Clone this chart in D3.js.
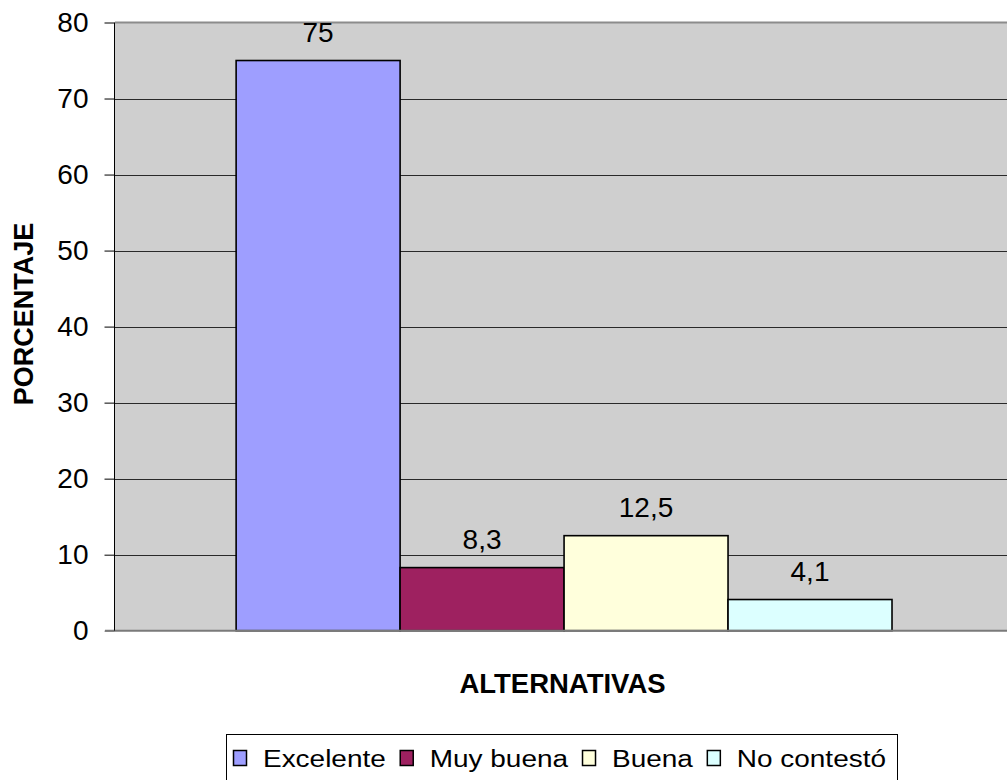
<!DOCTYPE html>
<html>
<head>
<meta charset="utf-8">
<script src="https://cdn.jsdelivr.net/npm/d3@7"></script>
<style>
  html, body { margin: 0; padding: 0; background: #fff; }
  svg { display: block; font-family: Arial, "Liberation Sans", sans-serif; }
</style>
</head>
<body>
<svg id="chart" width="1007" height="780"></svg>
<script>
const series = ["Excelente", "Muy buena", "Buena", "No contestó"];
const values = [75, 8.3, 12.5, 4.1];
const labels = ["75", "8,3", "12,5", "4,1"];
const colors = ["#9E9EFF", "#9E2160", "#FFFFDC", "#DCFFFF"];
const yTicks = [0, 10, 20, 30, 40, 50, 60, 70, 80];
const yTitle = "PORCENTAJE";
const xTitle = "ALTERNATIVAS";

const svg = d3.select("#chart");
const plot = { left: 115, right: 1007, top: 22.5, bottom: 630.7 };

const y = d3.scaleLinear().domain([0, 80]).range([plot.bottom, plot.top]);
const x = d3.scaleBand().domain(series)
  .range([plot.left, plot.right])
  .paddingInner(0).paddingOuter(0.72).align(0.513);

// plot background
svg.append("rect")
  .attr("x", plot.left).attr("y", plot.top)
  .attr("width", plot.right - plot.left).attr("height", plot.bottom - plot.top)
  .attr("fill", "#CFCFCF");

// gridlines
svg.append("g").selectAll("line")
  .data(yTicks.filter(d => d > 0 && d < 80))
  .join("line")
  .attr("x1", plot.left).attr("x2", plot.right)
  .attr("y1", d => Math.round(y(d)) + 0.5).attr("y2", d => Math.round(y(d)) + 0.5)
  .attr("stroke", "#2a2a2a").attr("stroke-width", 1);

// top border (80)
svg.append("line")
  .attr("x1", plot.left).attr("x2", plot.right)
  .attr("y1", y(80)).attr("y2", y(80))
  .attr("stroke", "#8c8c8c").attr("stroke-width", 2);

// bars
svg.append("g").selectAll("rect")
  .data(series)
  .join("rect")
  .attr("x", d => x(d))
  .attr("y", (d, i) => y(values[i]))
  .attr("width", x.bandwidth())
  .attr("height", (d, i) => y(0) - y(values[i]))
  .attr("fill", (d, i) => colors[i])
  .attr("stroke", "#000").attr("stroke-width", 1.6);

// bottom axis line (0)
svg.append("line")
  .attr("x1", plot.left - 10).attr("x2", plot.right)
  .attr("y1", y(0)).attr("y2", y(0))
  .attr("stroke", "#7a7a7a").attr("stroke-width", 2);

// y axis
const yAxis = d3.axisLeft(y).tickValues(yTicks).tickSize(10).tickPadding(16)
  .tickFormat(d3.format("d"));
const gy = svg.append("g").attr("transform", `translate(${plot.left - 0.5},0)`).call(yAxis);
gy.select(".domain").attr("stroke", "#000").attr("d", `M0,${plot.top}V${plot.bottom}`);
gy.selectAll(".tick line").attr("stroke", d => d === 0 ? "#7a7a7a" : "#000");
gy.selectAll(".tick text")
  .attr("font-size", 28).attr("fill", "#000")
  .attr("font-family", "Arial, 'Liberation Sans', sans-serif");

// data labels
svg.append("g").selectAll("text")
  .data(series)
  .join("text")
  .attr("x", d => x(d) + x.bandwidth() / 2)
  .attr("y", (d, i) => y(values[i]) - 19)
  .attr("text-anchor", "middle")
  .attr("font-size", 28).attr("fill", "#000")
  .text((d, i) => labels[i]);

// axis titles
svg.append("text")
  .attr("transform", `translate(33,314) rotate(-90)`)
  .attr("text-anchor", "middle")
  .attr("font-size", 27).attr("font-weight", "bold")
  .text(yTitle);

svg.append("text")
  .attr("x", 562.5).attr("y", 693)
  .attr("text-anchor", "middle")
  .attr("font-size", 27.5).attr("font-weight", "bold")
  .text(xTitle);

// legend
const legend = svg.append("g");
legend.append("rect")
  .attr("x", 226.5).attr("y", 734.5)
  .attr("width", 671).attr("height", 60)
  .attr("fill", "#fff").attr("stroke", "#000").attr("stroke-width", 1);

const sx = 1.19;
let cx = 233;
series.forEach((s, i) => {
  legend.append("rect")
    .attr("x", cx + 0.5).attr("y", 750.5)
    .attr("width", 13).attr("height", 15)
    .attr("fill", colors[i]).attr("stroke", "#000").attr("stroke-width", 1.5);
  const t = legend.append("text")
    .attr("transform", `translate(${cx + 30},767) scale(${sx},1)`)
    .attr("font-size", 23.5).attr("fill", "#000")
    .text(s);
  const w = t.node().getComputedTextLength() * sx;
  cx = cx + 30 + w + 14;
});
</script>
</body>
</html>
